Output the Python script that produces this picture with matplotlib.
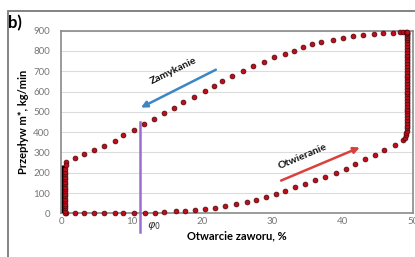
import matplotlib
matplotlib.use("Agg")
import matplotlib.pyplot as plt
from matplotlib.patches import Rectangle, FancyArrowPatch

plt.rcParams['font.family'] = ['Lato', 'DejaVu Sans']

# Closing curve (Zamykanie) - upper branch
close_x = [0.7, 2.0, 3.2, 4.7, 6.15, 7.6, 8.8, 10.3, 11.8, 13.25, 14.7, 16.05, 17.4,
           18.9, 20.4, 21.7, 22.9, 24.3, 25.8, 27.3, 28.8, 30.3, 31.8, 33.1, 34.4,
           35.6, 37.0, 38.7, 40.1, 41.5, 42.9, 44.4, 45.8, 47.2, 48.2, 48.6, 49.0]
close_y = [254, 271, 291, 310, 333, 356, 385, 412, 441, 466, 492, 519, 549,
           575, 603, 629, 653, 678, 701, 726, 747, 769, 787, 801, 818,
           833, 846, 854, 866, 874, 877, 882, 887, 890, 892, 892, 893]

# Opening curve (Otwieranie) - lower branch
open_x = [0.7, 2.0, 3.2, 4.7, 6.15, 7.6, 8.85, 10.4, 11.9, 13.3, 14.7, 16.3, 17.6,
          19.0, 20.5, 21.9, 23.3, 24.9, 26.4, 27.7, 29.1, 30.5, 31.8, 33.2, 34.7,
          36.1, 37.5, 39.0, 40.5, 41.8, 43.2, 44.6, 45.9, 47.4, 48.6]
open_y = [0, 0, 0, 0, 0, 0, 0, 0, 2, 3, 5, 9, 13,
          16, 21, 28, 36, 44, 56, 67, 79, 95, 111, 128, 143,
          163, 180, 200, 220, 244, 266, 287, 312, 335, 361]

# Dense vertical stacks at the valve end positions
left_stack_x = [0.55, 0.55, 0.55, 0.55, 0.55, 0.55, 0.55, 0.55, 0.55, 0.55, 0.55,
                0.55, 0.55, 0.55, 0.55, 0.55, 0.55, 0.55, 0.6, 0.65]
left_stack_y = [0, 12, 24, 36, 48, 60, 72, 84, 96, 108, 120, 132, 144, 156, 168,
                180, 192, 204, 220, 238]
left_bar = (0.35, 0, 240)

right_stack_x = [48.8, 48.95, 49.05, 49.1, 49.15, 49.2, 49.2, 49.2, 49.2, 49.2,
                 49.2, 49.2, 49.2, 49.2, 49.2, 49.2, 49.2, 49.2, 49.2, 49.2, 49.2,
                 49.2, 49.2, 49.2, 49.2, 49.2, 49.2, 49.2, 49.2, 49.2, 49.2, 49.2,
                 49.2, 49.2, 49.2, 49.2, 49.2, 49.2, 49.2, 49.2, 49.2, 49.2]
right_stack_y = [372, 384, 396, 408, 420, 432, 446, 460, 474, 488, 502, 516, 530,
                 544, 558, 572, 586, 600, 614, 628, 642, 656, 670, 684, 698, 712,
                 726, 740, 754, 768, 782, 796, 810, 824, 838, 852, 866, 876, 884,
                 888, 891, 893]
right_bar = (49.25, 420, 893)

phi0_x = 11.2
phi0_top = 452

xticks = [0, 10, 20, 30, 40, 50]
yticks = [0, 100, 200, 300, 400, 500, 600, 700, 800, 900]

W, H = 415, 257
fig = plt.figure(figsize=(W / 100, H / 100), dpi=100)
ax = fig.add_axes([61 / W, 1 - 213.3 / H, (413 - 61) / W, (213.3 - 30.7) / H])

ax.set_xlim(0, 50)
ax.set_ylim(0, 900)

for y in yticks[1:]:
    ax.axhline(y, color='#dcdcdc', lw=0.8, zorder=0)

mk = dict(linestyle='none', marker='o', markersize=3.5, markerfacecolor='#bb0f1c',
          markeredgecolor='#4a0508', markeredgewidth=0.5, clip_on=False, zorder=4)

ax.vlines(left_bar[0], left_bar[1], left_bar[2], color='black', lw=2.4, zorder=3)
ax.vlines(right_bar[0], right_bar[1], right_bar[2], color='black', lw=2.4, zorder=3,
          clip_on=False)

ax.plot(close_x, close_y, **mk)
ax.plot(open_x, open_y, **mk)
ax.plot(left_stack_x, left_stack_y, **mk)
ax.plot(right_stack_x, right_stack_y, **mk)

# phi0 marker line
ax.plot([phi0_x, phi0_x], [-90, phi0_top], color='#9b6fd0', lw=1.8, clip_on=False, zorder=5)
ax.text(phi0_x + 2.0, -62, r'$\varphi_0$', fontsize=8, color='#333333', ha='center',
        va='center', fontweight='bold')

# Arrows
ax.add_patch(FancyArrowPatch((22.35, 714), (11.0, 515), arrowstyle='-|>', mutation_scale=9,
                             color='#3d86c6', lw=1.8, zorder=6))
ax.add_patch(FancyArrowPatch((30.9, 156), (42.8, 330), arrowstyle='-|>', mutation_scale=9,
                             color='#d9423c', lw=1.8, zorder=6))
ax.text(16.0, 700, 'Zamykanie', rotation=26, fontsize=7.5, fontweight='bold',
        ha='center', va='center', color='#111111')
ax.text(34.3, 280, 'Otwieranie', rotation=23, fontsize=7.5, fontweight='bold',
        ha='center', va='center', color='#111111')

for s in ax.spines.values():
    s.set_color('#8a8a8a')
    s.set_linewidth(1.2)

ax.set_xticks(xticks)
ax.set_yticks(yticks)
ax.tick_params(length=0, labelsize=7, labelcolor='#777777')
ax.tick_params(axis='y', pad=8)
ax.tick_params(axis='x', pad=3)

ax.set_xlabel('Otwarcie zaworu, %', fontsize=8, fontweight='bold', labelpad=3)
ax.set_ylabel('Przepływ m*, kg/min', fontsize=8, fontweight='bold', labelpad=3)

fig.text(15 / W, 1 - 23 / H, 'b)', fontsize=12, fontweight='bold', ha='center', va='center')

fig.add_artist(Rectangle((8 / W, -0.1), 1.2, 1 - 11 / H + 0.1, transform=fig.transFigure,
                         fill=False, edgecolor='#7a7a7a', lw=1.3, zorder=10))

fig.savefig('out.png', dpi=100)
